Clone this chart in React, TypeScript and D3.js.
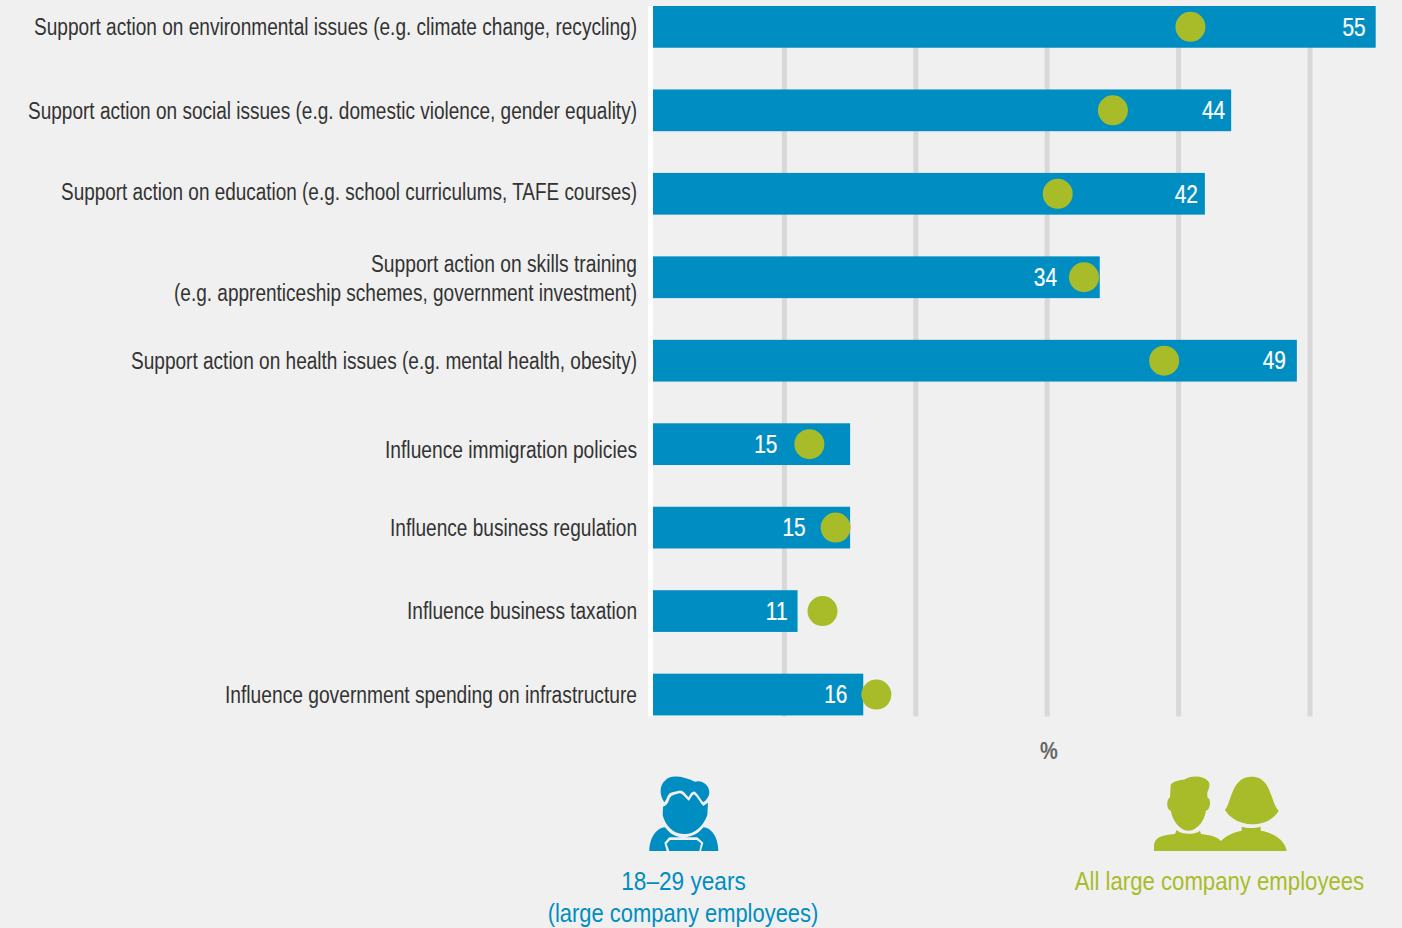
import React from "react";
import * as d3 from "d3";

const categories = [
  "Support action on environmental issues (e.g. climate change, recycling)",
  "Support action on social issues (e.g. domestic violence, gender equality)",
  "Support action on education (e.g. school curriculums, TAFE courses)",
  "Support action on skills training\n(e.g. apprenticeship schemes, government investment)",
  "Support action on health issues (e.g. mental health, obesity)",
  "Influence immigration policies",
  "Influence business regulation",
  "Influence business taxation",
  "Influence government spending on infrastructure",
];
const youngValues = [55, 44, 42, 34, 49, 15, 15, 11, 16];
// the green dots carry no printed label, so these are read off their position
const allValues = [40.9, 35, 30.8, 32.8, 38.9, 11.9, 13.9, 12.9, 17];
const gridTicks = [10, 20, 30, 40, 50];

const W = 1402;
const H = 928;
const BLUE = "#008dc1";
const GREEN = "#a8bc2a";
const FONT = "'Liberation Sans', sans-serif";
const SQUEEZE = 0.835; // no condensed face installed, so squeeze the text

const x = d3.scaleLinear().domain([0, 55]).range([653, 1375.7]);
const y = d3.scaleBand<number>().domain(d3.range(categories.length)).range([6, 715.4]).paddingInner(0.5).paddingOuter(0);

// hand fitting against the picture: label shifts and line widths, value shifts
const labelShift = [0, 1, -2, 1, 0, 6, 0, 0, 0];
const labelWidths = [[603], [609], [576], [266, 463], [506], [252], [247], [230], [412]];
const valueShift = [-1, 3, 2, 3, -2, -2, 0, -1, 1];

const Narrow = ({ x, y, anchor = "end", size, fill, weight, stroke, squeeze = SQUEEZE, children }: any) => (
  <text
    transform={`translate(${x},${y}) scale(${squeeze},1)`}
    dy="0.35em"
    textAnchor={anchor}
    fontSize={size}
    fontWeight={weight}
    fill={fill}
    stroke={stroke}
    strokeWidth={stroke ? 0.2 : undefined}
  >
    {children}
  </text>
);

// fitted to a measured width instead of the fixed squeeze
const Fitted = ({ x, y, anchor = "end", size, fill, width, children }: any) => (
  <text
    x={x}
    y={y}
    dy="0.35em"
    textAnchor={anchor}
    fontSize={size}
    fill={fill}
    textLength={width}
    lengthAdjust="spacingAndGlyphs"
  >
    {children}
  </text>
);

const BoyIcon = () => (
  <g transform="translate(620,760) scale(0.3333)" fill={BLUE}>
    <path d="M133,127 C118,105 118,75 135,62 C150,42 190,48 225,65 C245,58 270,75 268,100 C266,112 260,120 250,127 C242,118 235,105 228,98 C220,90 212,98 206,112 C198,105 190,90 178,92 C165,95 148,95 143,108 C140,115 137,122 133,127 Z" />
    <path d="M129,140 C138,138 145,130 148,118 C152,105 165,104 178,100 C190,100 198,118 207,122 C214,112 218,100 224,104 C234,112 240,128 250,138 L264,128 L262,165 C250,200 220,225 190,222 C160,222 135,195 128,165 Z" />
    <path d="M88,273 C88,240 105,205 135,202 C150,222 165,230 185,232 L148,232 L133,248 L140,273 Z" />
    <path d="M295,273 C295,240 280,205 250,202 C235,222 215,230 195,232 L232,232 L250,248 L243,273 Z" />
    <path d="M150,240 L230,240 L243,250 L238,273 L148,273 L140,252 Z" />
  </g>
);

const PairIcon = () => (
  <g transform="translate(1130,760) scale(0.3333)" fill={GREEN}>
    <path d="M122,75 C130,62 150,62 165,58 C180,45 225,45 238,68 C240,80 235,90 232,97 L232,112 C245,118 242,150 228,152 C222,190 195,212 175,212 C155,212 130,190 122,152 C110,152 108,118 120,112 Z" />
    <path d="M72,273 L72,255 C75,235 90,225 135,222 L140,210 C155,225 195,225 210,212 L213,222 C240,225 262,230 273,243 C290,225 310,218 335,212 L335,200 C350,205 375,205 392,200 L392,212 C430,218 465,240 470,273 Z" />
    <path d="M285,150 C305,125 305,50 365,50 C425,50 420,125 446,152 C430,180 400,192 365,193 C330,192 300,175 285,150 Z" />
  </g>
);

export default function App() {
  const barH = y.bandwidth();
  const gridTop = y(0)!;
  const gridBottom = y(categories.length - 1)! + barH + 1;

  return (
    <svg width={W} height={H} style={{ position: "absolute", left: 0, top: 0, background: "#f0f0f0", fontFamily: FONT }}>
      <rect x={x(0) - 5} y={gridTop} width={5} height={gridBottom - gridTop} fill="#ffffff" />
      {gridTicks.map((t) => (
        <line key={t} x1={x(t)} x2={x(t)} y1={gridTop} y2={gridBottom} stroke="#d8d8d8" strokeWidth={5} />
      ))}

      {categories.map((c, i) => {
        const cy = y(i)! + barH / 2;
        const lines = c.split("\n");
        // the value sits at the bar end unless the dot is in the way
        const dotNearEnd = youngValues[i] - allValues[i] < 4;
        const valueEnd = dotNearEnd
          ? Math.min(x(youngValues[i]) - 9, x(allValues[i]) - 30)
          : x(youngValues[i]) - 9;
        return (
          <g key={c}>
            <rect x={x(0)} y={y(i)} width={x(youngValues[i]) - x(0)} height={barH} fill={BLUE} />
            <circle cx={x(allValues[i])} cy={cy} r={15} fill={GREEN} />
            <Narrow x={valueEnd + valueShift[i]} y={cy} size={25} fill="#ffffff" stroke="#ffffff">
              {youngValues[i]}
            </Narrow>
            {lines.map((l, k) => (
              <Fitted
                key={l}
                x={637}
                y={cy + labelShift[i] + (k - (lines.length - 1) / 2) * 29}
                size={23}
                fill="#333333"
                width={labelWidths[i][k]}
              >
                {l}
              </Fitted>
            ))}
          </g>
        );
      })}

      <Narrow x={1049} y={751} anchor="middle" size={24} fill="#666666" weight="bold">%</Narrow>

      <BoyIcon />
      <PairIcon />

      <Narrow x={683.5} y={881} anchor="middle" size={26} fill={BLUE} squeeze={0.87}>18–29 years</Narrow>
      <Narrow x={683} y={913} anchor="middle" size={26} fill={BLUE} squeeze={0.844}>(large company employees)</Narrow>
      <Narrow x={1219.5} y={881} anchor="middle" size={26} fill={GREEN} squeeze={0.8526}>All large company employees</Narrow>
    </svg>
  );
}
